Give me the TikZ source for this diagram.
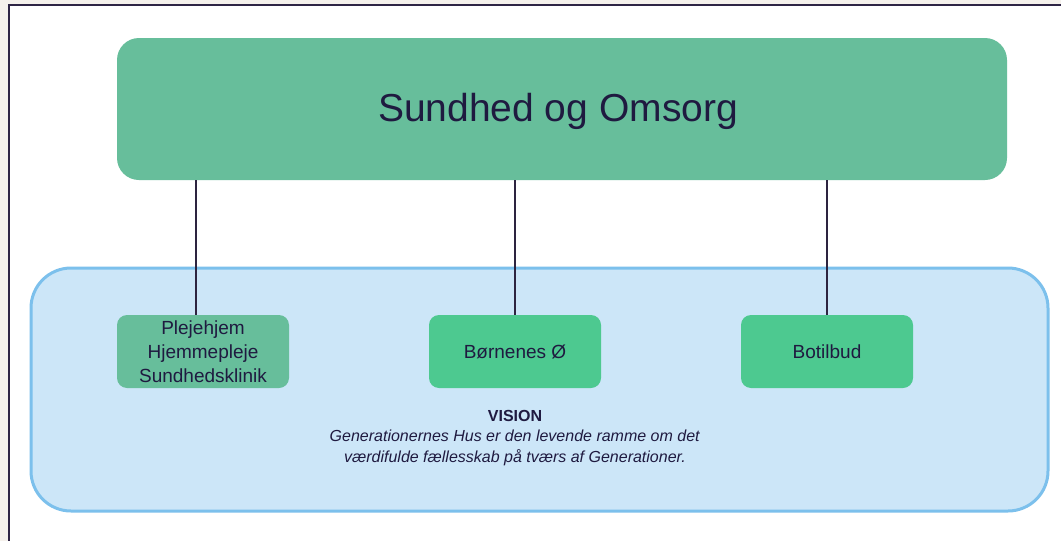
\documentclass[tikz,border=0pt]{standalone}
\usepackage{fontspec}
\setmainfont{Liberation Sans}
\definecolor{bgbeige}{HTML}{F5F1EC}
\definecolor{frameline}{HTML}{2E2545}
\definecolor{topgreen}{HTML}{67BE9B}
\definecolor{brightgreen}{HTML}{4DC990}
\definecolor{lightblue}{HTML}{CCE6F8}
\definecolor{blueedge}{HTML}{7CC0EC}
\definecolor{navytext}{HTML}{1F1A40}
\definecolor{linecol}{HTML}{2D2440}
\begin{document}
\begin{tikzpicture}[x=1pt,y=-1pt,
  topbox/.style={fill=topgreen, rounded corners=22pt, draw=none},
  childbox/.style={rounded corners=10pt, draw=none, minimum width=172pt, minimum height=73pt, inner sep=0pt, align=center, text=navytext, font=\fontsize{19}{24}\selectfont},
  connector/.style={draw=linecol, line width=1.3pt}
]
\useasboundingbox (0,0) rectangle (1061,541);
\fill[bgbeige] (0,0) rectangle (1061,541);
\fill[white] (9,5) rectangle (1061,541);
\draw[frameline, line width=1.6pt] (9,541) -- (9,5) -- (1061,5);
% blue container
\draw[fill=lightblue, draw=blueedge, line width=3pt, rounded corners=40pt] (31,268) rectangle (1048,511);
% top box
\node[topbox, minimum width=890pt, minimum height=142pt, inner sep=0pt, text=navytext] (top) at (562,109) {};
\node[text=navytext, font=\fontsize{39}{42}\selectfont, inner sep=0pt] (toptext) at (558,111) {Sundhed og Omsorg};
% children
\node[childbox, fill=topgreen] (c1) at (203,351.5) {Plejehjem\\Hjemmepleje\\Sundhedsklinik};
\node[childbox, fill=brightgreen] (c2) at (515,351.5) {Børnenes Ø};
\node[childbox, fill=brightgreen] (c3) at (827,351.5) {Botilbud};
% connectors
\draw[connector] (top.south -| 196,0) -- (c1.north -| 196,0);
\draw[connector] (top.south -| c2.north) -- (c2.north);
\draw[connector] (top.south -| c3.north) -- (c3.north);
% vision
\node[text=navytext, align=center, font=\fontsize{16}{20.5}\selectfont] (vision) at (515,438) {\textbf{VISION}\\\textit{Generationernes Hus er den levende ramme om det}\\\textit{værdifulde fællesskab på tværs af Generationer.}};
\end{tikzpicture}
\end{document}
